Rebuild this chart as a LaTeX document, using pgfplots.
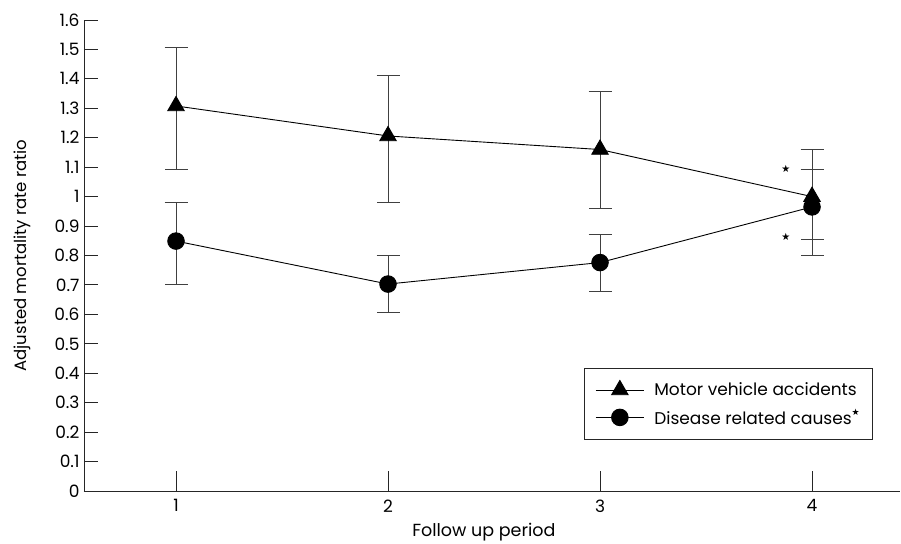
\documentclass[border=0pt]{standalone}
\usepackage{pgfplots}
\pgfplotsset{compat=1.18}
\usepackage{fontspec}
\setmainfont{Poppins}
\newfontfamily\symfont{DejaVu Sans}
\begin{document}
\begin{tikzpicture}[x=1pt,y=1pt]
\begin{axis}[
  at={(0,0)}, anchor=south west,
  scale only axis, width=816pt, height=471pt,
  xmin=0.566, xmax=4.415, ymin=0, ymax=1.6,
  axis lines=left, axis line style={-, black!85, line width=0.9pt},
  xtick={1,2,3,4}, ytick={0,0.1,...,1.6},
  tick align=inside,
  xtick style={/pgfplots/major tick length=20pt, black!85, line width=0.9pt},
  ytick style={/pgfplots/major tick length=14pt, black!85, line width=0.9pt},
  /pgf/number format/fixed, /pgf/number format/precision=1,
  /pgf/number format/assume math mode=true,
  tick label style={font=\fontsize{17}{20}\selectfont},
  xticklabel style={text=black, yshift=-5pt},
  yticklabel style={text=black, xshift=-1pt},
  xlabel={Follow up period}, ylabel={Adjusted mortality rate ratio},
  xlabel style={font=\fontsize{17.5}{20}\selectfont, at={(axis description cs:0.49,-0.087)}, anchor=center},
  ylabel style={font=\fontsize{16.5}{20}\selectfont, at={(axis description cs:-0.076,0.5)}, anchor=center},
  legend style={at={(0.6127,0.2611)}, anchor=north west,
    font=\fontsize{17}{20}\selectfont, draw=black!85, line width=0.9pt,
    inner xsep=11pt, inner ysep=12pt, row sep=8pt,
    legend cell align=left,
    /tikz/every odd column/.append style={column sep=8pt}},
  legend image code/.code={\draw[#1, line width=0.9pt] (0pt,0) -- (48pt,0);
     \draw[#1, mark repeat=2, mark phase=2] plot coordinates {(0pt,0) (24pt,0) (48pt,0)};},
]
% Motor vehicle accidents
\addplot+[black, line width=0.9pt, mark=triangle*, mark size=9.5pt,
  mark options={fill=black, solid},
  error bars/.cd, y dir=both, y explicit,
  error bar style={black!75, line width=0.9pt},
  error mark options={rotate=90, mark size=11.5pt, black!75, line width=0.9pt}]
table[x=x, y=y, y error plus=ep, y error minus=em] {
x y ep em
1 1.308 0.199 0.215
2 1.206 0.207 0.227
3 1.160 0.198 0.201
4 1.000 0.161 0.201
};
\addlegendentry{Motor vehicle accidents}
% Disease related causes
\addplot+[black, line width=0.9pt, mark=*, mark size=8.3pt,
  mark options={fill=black, solid},
  error bars/.cd, y dir=both, y explicit,
  error bar style={black!75, line width=0.9pt},
  error mark options={rotate=90, mark size=11.5pt, black!75, line width=0.9pt}]
table[x=x, y=y, y error plus=ep, y error minus=em] {
x y ep em
1 0.849 0.130 0.146
2 0.703 0.096 0.097
3 0.776 0.095 0.099
4 0.965 0.126 0.112
};
\addlegendentry{Disease related causes\raisebox{0.9ex}{\symfont\fontsize{9}{10}\selectfont ★}}
\node[font=\symfont\fontsize{10}{11}\selectfont] at (axis cs:3.877,1.094) {★};
\node[font=\symfont\fontsize{10}{11}\selectfont] at (axis cs:3.877,0.864) {★};
\end{axis}
\pgfresetboundingbox
\path (-84pt,-52pt) rectangle (817pt,491pt);
\end{tikzpicture}
\end{document}
